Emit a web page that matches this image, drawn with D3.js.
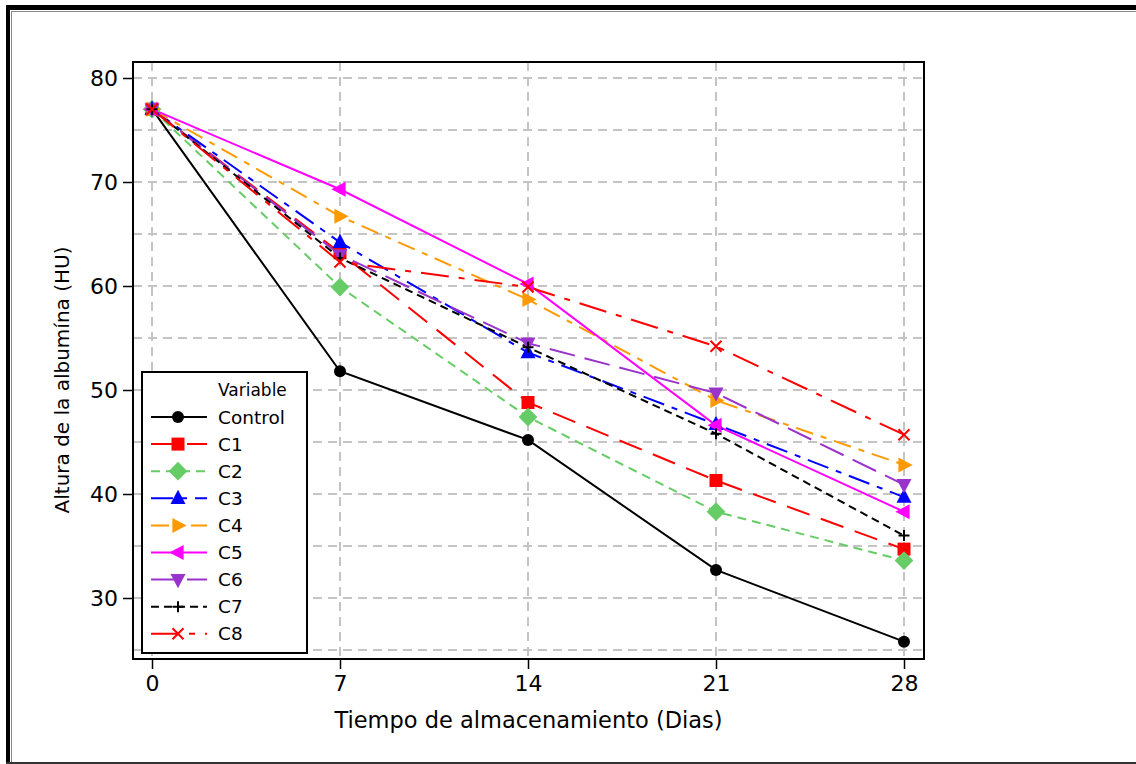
<!DOCTYPE html>
<html><head><meta charset="utf-8">
<script src="https://cdnjs.cloudflare.com/ajax/libs/d3/7.8.5/d3.min.js"></script>
<style>body{margin:0;background:#fff}svg{display:block}</style>
</head><body><svg id="c" width="1136" height="764"></svg>
<script>
const days = [0, 7, 14, 21, 28];
const seriesNames = ["Control","C1","C2","C3","C4","C5","C6","C7","C8"];
const control = [77.0, 51.8, 45.2, 32.7, 25.8];
const c1 = [77.0, 63.2, 48.8, 41.3, 34.7];
const c2 = [77.0, 59.9, 47.4, 38.3, 33.6];
const c3 = [77.0, 64.2, 53.6, 46.7, 39.7];
const c4 = [77.0, 66.7, 58.7, 49.0, 42.8];
const c5 = [77.0, 69.3, 60.2, 46.6, 38.3];
const c6 = [77.0, 63.0, 54.5, 49.7, 40.9];
const c7 = [77.0, 62.7, 54.1, 45.8, 36.0];
const c8 = [77.0, 62.3, 59.9, 54.2, 45.7];
const yTicks = [30, 40, 50, 60, 70, 80];
const yGrid = [25, 30, 35, 40, 45, 50, 55, 60, 65, 70, 75, 80];

const values = [control, c1, c2, c3, c4, c5, c6, c7, c8];
const colors = ["#000000","#ff0000","#66cc66","#0000ff","#ff9900","#ff00ff","#9933cc","#000000","#ff0000"];
const dashes = [null,"24,12","9,6","22,8,6,8","18,8,6,8",null,"26,10","8,5","28,10,6,10"];
const markers = ["circle","square","diamond","triUp","triRight","triLeft","triDown","plus","cross"];

const svg = d3.select("#c");
// outer frame
svg.append("rect").attr("x",6).attr("y",5).attr("width",1130).attr("height",5).attr("fill","#000");
svg.append("rect").attr("x",6).attr("y",5).attr("width",4).attr("height",759).attr("fill","#000");
svg.append("line").attr("x1",11.5).attr("x2",11.5).attr("y1",11).attr("y2",764).attr("stroke","#888").attr("stroke-width",1);
svg.append("line").attr("x1",11).attr("x2",1136).attr("y1",11.5).attr("y2",11.5).attr("stroke","#888").attr("stroke-width",1);
svg.append("rect").attr("x",6).attr("y",762).attr("width",1130).attr("height",2).attr("fill","#333");

const L=133, R=924, T=62, B=659;
const x = d3.scaleLinear().domain([0,28]).range([152,904]);
const y = d3.scaleLinear().domain([30,80]).range([598,78]);

// grid
const g = svg.append("g");
g.selectAll(".hg").data(yGrid).join("line")
  .attr("x1",L).attr("x2",R).attr("y1",d=>y(d)).attr("y2",d=>y(d))
  .attr("stroke","#c4c4c4").attr("stroke-width",2).attr("stroke-dasharray","9,6");
g.selectAll(".vg").data(days).join("line")
  .attr("x1",d=>x(d)).attr("x2",d=>x(d)).attr("y1",T).attr("y2",B)
  .attr("stroke","#c4c4c4").attr("stroke-width",2).attr("stroke-dasharray","9,6");

// plot frame
svg.append("rect").attr("x",L).attr("y",T).attr("width",R-L).attr("height",B-T)
  .attr("fill","none").attr("stroke","#000").attr("stroke-width",2);

// axes
const font = "'DejaVu Sans', Verdana, sans-serif";
const xAxis = svg.append("g").attr("transform",`translate(0,${B})`)
  .call(d3.axisBottom(x).tickValues(days).tickSize(10).tickPadding(6).tickFormat(d3.format("d")));
const yAxis = svg.append("g").attr("transform",`translate(${L},0)`)
  .call(d3.axisLeft(y).tickValues(yTicks).tickSize(10).tickPadding(5).tickFormat(d3.format("d")));
[xAxis,yAxis].forEach(a=>{
  a.select(".domain").remove();
  a.selectAll(".tick line").attr("stroke","#000").attr("stroke-width",1.5);
  a.selectAll(".tick text").attr("fill","#000").style("font-family",font).style("font-size","22px");
});

svg.append("text").attr("x",(L+R)/2).attr("y",728).attr("text-anchor","middle")
  .style("font-family",font).style("font-size","22.5px").text("Tiempo de almacenamiento (Dias)");
svg.append("text").attr("transform",`translate(69,380) rotate(-90)`).attr("text-anchor","middle")
  .style("font-family",font).style("font-size","20px").text("Altura de la albumína (HU)");

function markerPath(type, s){
  switch(type){
    case "circle": return null;
    case "square": return `M${-s},${-s}H${s}V${s}H${-s}Z`;
    case "diamond": return `M0,${-s*1.25}L${s*1.25},0L0,${s*1.25}L${-s*1.25},0Z`;
    case "triUp": return `M0,${-s*1.15}L${s},${s*0.75}L${-s},${s*0.75}Z`;
    case "triDown": return `M0,${s*1.15}L${s},${-s*0.75}L${-s},${-s*0.75}Z`;
    case "triRight": return `M${s*1.15},0L${-s*0.75},${s}L${-s*0.75},${-s}Z`;
    case "triLeft": return `M${-s*1.15},0L${s*0.75},${s}L${s*0.75},${-s}Z`;
    case "plus": return `M${-s},0H${s}M0,${-s}V${s}`;
    case "cross": return `M${-s},${-s}L${s},${s}M${s},${-s}L${-s},${s}`;
  }
}
function drawMarker(sel, type, color){
  if(type==="circle"){
    sel.append("circle").attr("r",6).attr("fill",color);
  } else if(type==="plus"||type==="cross"){
    sel.append("path").attr("d",markerPath(type,5.5)).attr("stroke",color).attr("stroke-width",2).attr("fill","none");
  } else if(type==="square"){
    sel.append("path").attr("d",markerPath(type,6.5)).attr("fill",color);
  } else {
    sel.append("path").attr("d",markerPath(type,7.5)).attr("fill",color);
  }
}

const line = d3.line().x((d,i)=>x(days[i])).y(d=>y(d));
values.forEach((vals,k)=>{
  svg.append("path").datum(vals).attr("d",line).attr("fill","none")
    .attr("stroke",colors[k]).attr("stroke-width",2)
    .attr("stroke-dasharray",dashes[k]);
});
values.forEach((vals,k)=>{
  vals.forEach((v,i)=>{
    const m = svg.append("g").attr("transform",`translate(${x(days[i])},${y(v)})`);
    drawMarker(m, markers[k], colors[k]);
  });
});

// legend
const lg = svg.append("g");
lg.append("rect").attr("x",142).attr("y",372).attr("width",165).attr("height",281)
  .attr("fill","#fff").attr("stroke","#000").attr("stroke-width",2);
lg.append("text").attr("x",218).attr("y",396).style("font-family",font).style("font-size","17px").text("Variable");
seriesNames.forEach((n,k)=>{
  const yy = 417 + k*27.1;
  lg.append("line").attr("x1",151).attr("x2",207).attr("y1",yy).attr("y2",yy)
    .attr("stroke",colors[k]).attr("stroke-width",2).attr("stroke-dasharray",dashes[k]);
  const m = lg.append("g").attr("transform",`translate(178,${yy})`);
  drawMarker(m, markers[k], colors[k]);
  lg.append("text").attr("x",218).attr("y",yy+6.5).style("font-family",font).style("font-size","18.5px").text(n);
});
</script></body></html>
